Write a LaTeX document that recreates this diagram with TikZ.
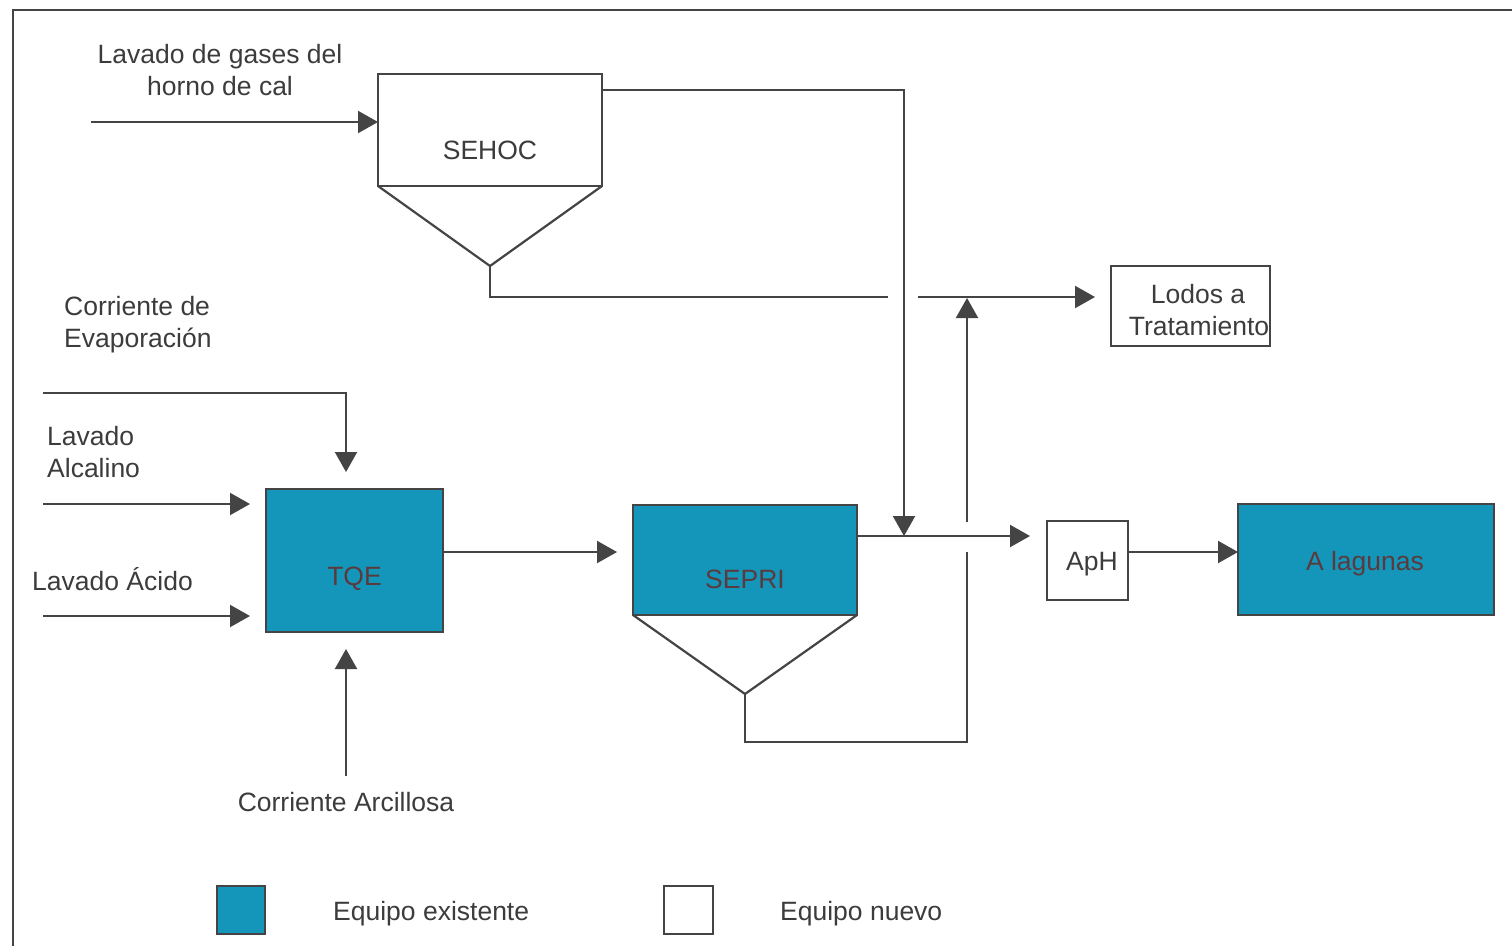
\documentclass[tikz,border=0pt]{standalone}
\usepackage{fontspec}
\setmainfont{Liberation Sans}
\usetikzlibrary{arrows.meta}
\definecolor{teal}{HTML}{1496BA}
\definecolor{ink}{HTML}{444444}
\definecolor{txt}{HTML}{3C3C3C}
\definecolor{txtdark}{HTML}{5A3A3C}
\begin{document}
\begin{tikzpicture}[x=1pt,y=-1pt,
  every node/.style={font=\fontsize{26.5}{32}\selectfont, text=txt},
  line/.style={draw=ink, line width=2.2pt},
  arr/.style={line, -{Triangle[length=20pt,width=22pt]}},
  unit/.style={line, rectangle, inner sep=0pt, outer sep=0pt},
  oldunit/.style={unit, fill=teal, text=txtdark},
  newunit/.style={unit, fill=white},
  lbl/.style={align=left, anchor=west, inner sep=0pt},
]
\useasboundingbox (0,0) rectangle (1512,945);
\fill[white] (0,0) rectangle (1512,945);
% outer frame
\draw[line] (13,960) -- (13,10) -- (1530,10);

% settlers and tanks
\node[newunit, minimum width=224pt, minimum height=112pt] (sehoc) at (490,130) {};
\node at (490,150) {SEHOC};
\coordinate (sehocApex) at (490,266);
\draw[line, line join=round] (sehoc.south west) -- (sehocApex) -- (sehoc.south east);

\node[oldunit, minimum width=177pt, minimum height=143pt] (tqe) at (354.5,560.5) {};
\node at (354.5,579) {\textcolor{txtdark}{TQE}};

\node[oldunit, minimum width=224pt, minimum height=110pt] (sepri) at (745,560) {};
\node at (745,579) {\textcolor{txtdark}{SEPRI}};
\coordinate (sepriApex) at (745,694);
\draw[line, line join=round] (sepri.south west) -- (sepriApex) -- (sepri.south east);

\node[newunit, minimum width=81pt, minimum height=79pt] (aph) at (1087.5,560.5) {};
\node at (1092,564) {ApH};

\node[oldunit, minimum width=256pt, minimum height=111pt] (lag) at (1366,559.5) {};
\node at (1365,564) {\textcolor{txtdark}{A lagunas}};

\node[newunit, minimum width=159pt, minimum height=80pt] (lodos) at (1190.5,306) {};
\node at (1198,294) {Lodos a};
\node at (1199,326) {Tratamiento};

% stream labels
\node[align=center] (lgas) at (220,70) {Lavado de gases del\\horno de cal};
\node[lbl] (levap) at (64,325) {Corriente de\\Evaporación};
\node[lbl] (lalc) at (47,452) {Lavado\\Alcalino};
\node[lbl] (lacid) at (32,579) {Lavado Ácido};
\node (larc) at (346,802) {Corriente Arcillosa};

% feed streams
\coordinate (gasIn) at (91,122);
\draw[arr] (gasIn) -- (sehoc.west |- gasIn);

\coordinate (evapIn) at (43,393);
\coordinate (evapTip) at (346,472);
\draw[arr] (evapIn) -| (evapTip);

\coordinate (alcIn) at (43,504);
\coordinate (alcTip) at (250,504);
\draw[arr] (alcIn) -- (alcTip);

\coordinate (acidIn) at (43,616);
\coordinate (acidTip) at (250,616);
\draw[arr] (acidIn) -- (acidTip);

\coordinate (arcIn) at (346,776);
\coordinate (arcTip) at (346,649);
\draw[arr] (arcIn) -- (arcTip);

% TQE to SEPRI
\coordinate (tqeTip) at (617,552);
\draw[arr] (tqe.east |- tqeTip) -- (tqeTip);

% SEHOC overflow to the clarified stream
\coordinate (sehocOut) at (602,90);
\coordinate (joinTip) at (904,536);
\draw[arr] (sehocOut) -| (joinTip);

% SEHOC sludge line
\coordinate (sehocSludgeEnd) at (888,297);
\draw[line] (sehocApex) |- (sehocSludgeEnd);
\coordinate (sludgeStart) at (918,297);
\coordinate (sludgeTip) at (1095,297);
\draw[arr] (sludgeStart) -- (sludgeTip);

% SEPRI sludge line, rising to the sludge header
\coordinate (sepriCorner) at (967,742);
\coordinate (gapLow) at (967,552);
\coordinate (gapHigh) at (967,522);
\coordinate (riseTip) at (967,298);
\draw[line] (sepriApex) |- (sepriCorner) -- (gapLow);
\draw[arr] (gapHigh) -- (riseTip);

% clarified stream to pH adjustment and lagoons
\coordinate (clarTip) at (1030,536);
\draw[arr] (sepri.east |- clarTip) -- (clarTip);
\coordinate (aphOut) at (1128,552);
\draw[arr] (aphOut) -- (lag.west |- aphOut);

% legend
\node[oldunit, minimum width=48pt, minimum height=48pt] (keyOld) at (241,910) {};
\node[lbl] (keyOldTxt) at (333,914) {Equipo existente};
\node[newunit, minimum width=49pt, minimum height=48pt] (keyNew) at (688.5,910) {};
\node[lbl] (keyNewTxt) at (780,914) {Equipo nuevo};
\end{tikzpicture}
\end{document}
